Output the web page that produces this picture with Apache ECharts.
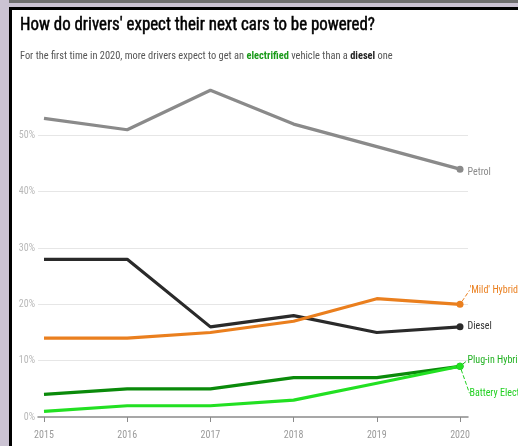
<!DOCTYPE html>
<html><head><meta charset="utf-8">
<script src="https://cdn.jsdelivr.net/npm/echarts@6/dist/echarts.min.js"></script>
<style>html,body{margin:0;padding:0;background:#fff}#c{width:518px;height:446px}</style>
</head><body><div id="c"></div>
<script>
const years = [2015, 2016, 2017, 2018, 2019, 2020];
const petrol = [53, 51, 58, 52, 48, 44];
const diesel = [28, 28, 16, 18, 15, 16];
const mildHybrid = [14, 14, 15, 17, 21, 20];
const plugInHybrid = [4, 5, 5, 7, 7, 9];
const batteryElectric = [1, 2, 2, 3, 6, 9];
const yTicks = [0, 10, 20, 30, 40, 50];
const seriesNames = ['Petrol', 'Diesel', "'Mild' Hybrid", 'Plug-in Hybrid', 'Battery Electric'];

function has(f){
  const c=document.createElement('canvas').getContext('2d');
  const s='How do drivers expect WMil';
  c.font='bold 20px monospace'; const a=c.measureText(s).width;
  c.font='bold 20px "'+f+'", monospace'; const b=c.measureText(s).width;
  return a!==b;
}
const cands=['Roboto Condensed','Liberation Sans Narrow','DejaVu Sans Condensed','Open Sans Condensed','Noto Sans Condensed'];
let FONT='Roboto';
for(const f of cands){ if(has(f)){FONT=f;break;} }

const TITLE = "How do drivers' expect their next cars to be powered?";
const titleFont = 'normal 18.5px "'+FONT+'"';
const mc = document.createElement('canvas').getContext('2d');
mc.font = titleFont;
const titleScale = Math.min(1, 355 / mc.measureText(TITLE).width);

const chart = echarts.init(document.getElementById('c'));
function mk(name, vals, color, opts){
  opts = opts || {};
  const data = vals.map((v,i)=>{
    const d = {value:[years[i], v]};
    if(i===vals.length-1){
      d.symbol='circle'; d.symbolSize=7;
      d.label={show:true, position:'right', distance:4, formatter:name, color:opts.labelColor||color,
        fontFamily:FONT, fontSize:10};
    }
    return d;
  });
  const s = {name, type:'line', data, symbol:'none', showSymbol:true, lineStyle:{color, width:3.2},
    itemStyle:{color}, emphasis:{disabled:true}, animation:false, z: opts.z||2};
  if(opts.dy){
    s.labelLayout={dy:opts.dy, dx:opts.dx||0};
    if(opts.leader) s.labelLine={show:true, lineStyle:{type:'dashed', width:1, color:opts.labelColor||color}};
  }
  return s;
}
const gridColors = ['transparent','#e6e6e6','#e6e6e6','#e6e6e6','#e6e6e6','#e6e6e6','transparent'];
chart.setOption({
  animation:false,
  graphic:[
    {type:'rect', shape:{x:0,y:0,width:518,height:3}, style:{fill:'#6e6e6e'}, silent:true},
    {type:'rect', shape:{x:0,y:3,width:518,height:5}, style:{fill:'#cbc3d3'}, silent:true},
    {type:'rect', shape:{x:0,y:0,width:9,height:446}, style:{fill:'#cbc3d3'}, silent:true},
    {type:'rect', shape:{x:9,y:7,width:509,height:3}, style:{fill:'#000'}, silent:true},
    {type:'rect', shape:{x:9,y:7,width:3,height:439}, style:{fill:'#000'}, silent:true},
    {type:'text', x:20, y:16, scaleX:titleScale, style:{text:TITLE,
      font:titleFont, fill:'#000', stroke:'#000', lineWidth:0.5}},
    {type:'text', left:20, top:51, style:{
      text:'For the first time in 2020, more drivers expect to get an {g|electrified} vehicle than a {d|diesel} one',
      fontFamily:FONT, fontSize:10.4, fill:'#555',
      rich:{g:{fontFamily:FONT, fontSize:10.4, fontWeight:'bold', fill:'#1a9a1a'}, d:{fontFamily:FONT, fontSize:10.4, fontWeight:'bold', fill:'#222'}}}}
  ],
  grid:{left:38, right:50, top:417-60*5.633, bottom:446-417},
  xAxis:{type:'value', min:2014.928, max:2020.096,
    axisLine:{show:true, lineStyle:{color:'#8a8a8a', width:1.5}},
    axisTick:{show:true, customValues:years, length:5, lineStyle:{color:'#8a8a8a'}},
    axisLabel:{customValues:years, formatter:v=>String(v), color:'#9a9a9a', fontFamily:FONT, fontSize:10, margin:13},
    splitLine:{show:false}},
  yAxis:{type:'value', min:0, max:60, interval:10,
    axisLine:{show:false}, axisTick:{show:false},
    axisLabel:{formatter:v=> v===60?'':v+'%', color:'#b8b8b8', fontFamily:FONT, fontSize:10, margin:3},
    splitLine:{show:true, lineStyle:{color:gridColors, width:1}}},
  series:[
    mk(seriesNames[0], petrol, '#8a8a8a', {labelColor:'#8a8a8a', dy:3}),
    mk(seriesNames[1], diesel, '#2a2a2a', {labelColor:'#333'}),
    mk(seriesNames[2], mildHybrid, '#ea7f1e', {dy:-14, dx:2, leader:true}),
    mk(seriesNames[3], plugInHybrid, '#0a8a0a', {labelColor:'#1fb01f', dy:-6, leader:true}),
    mk(seriesNames[4], batteryElectric, '#22e022', {labelColor:'#22d022', dy:27, dx:2, leader:true})
  ]
});
</script></body></html>
